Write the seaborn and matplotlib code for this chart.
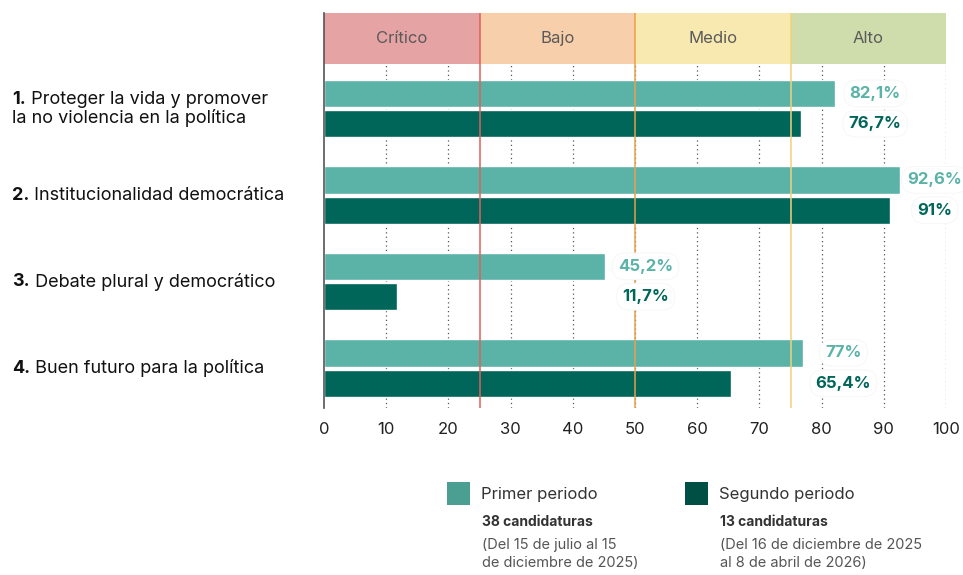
import pandas as pd
import numpy as np
import matplotlib.pyplot as plt
import matplotlib.transforms as mtransforms
from matplotlib.patches import Rectangle
import seaborn as sns

# ----- data -----
numeros = ["1.", "2.", "3.", "4."]
indicadores = [
    "Proteger la vida y promover\nla no violencia en la política",
    "Institucionalidad democrática",
    "Debate plural y democrático",
    "Buen futuro para la política",
]
periodos = ["Primer periodo", "Segundo periodo"]
primer = [82.1, 92.6, 45.2, 77.0]
segundo = [76.7, 91.0, 11.7, 65.4]
etiq_primer = ["82,1%", "92,6%", "45,2%", "77%"]
etiq_segundo = ["76,7%", "91%", "11,7%", "65,4%"]

niveles = ["Crítico", "Bajo", "Medio", "Alto"]
limites = [0, 25, 50, 75, 100]
x_ticks = [0, 10, 20, 30, 40, 50, 60, 70, 80, 90, 100]

candidaturas = ["38 candidaturas", "13 candidaturas"]
fechas = ["(Del 15 de julio al 15\nde diciembre de 2025)",
          "(Del 16 de diciembre de 2025\nal 8 de abril de 2026)"]

# ----- colours -----
c_light = "#5bb3a8"
c_dark = "#00665a"
band_colors = ["#e5a3a3", "#f7cfaa", "#f8e9b0", "#cfdcab"]
line_colors = ["#e0605a", "#e8a04a", "#f0d27a"]

df = pd.DataFrame({
    "indicador": indicadores * 2,
    "periodo": [periodos[0]] * 4 + [periodos[1]] * 4,
    "valor": primer + segundo,
})

sns.set_theme(style="white")
plt.rcParams["font.family"] = ["Inter", "DejaVu Sans"]

fig = plt.figure(figsize=(9.63, 5.75), dpi=100)
ax = fig.add_axes([324 / 963, (575 - 408) / 575, 622 / 963, 395 / 575])

band_frac = (408 - 64) / 395

# dotted grid below the band
for x in x_ticks[1:]:
    ax.axvline(x, ymin=0, ymax=band_frac, color="#555555", lw=0.9,
               ls=(0, (1, 2.5)), zorder=0)

sns.barplot(data=df, y="indicador", x="valor", hue="periodo", orient="h",
            palette=[c_light, c_dark], width=0.7, gap=0.1, legend=False,
            saturation=1, ax=ax, zorder=2)

# level band on top
for i, nivel in enumerate(niveles):
    ax.axvspan(limites[i], limites[i + 1], ymin=band_frac, ymax=1,
               color=band_colors[i], lw=0, zorder=1)
    ax.text((limites[i] + limites[i + 1]) / 2, 1 - (1 - band_frac) / 2, nivel,
            transform=ax.get_xaxis_transform(), ha="center", va="center",
            fontsize=12, color="#5a5a5a")

# threshold lines
for lim, col in zip(limites[1:4], line_colors):
    ax.axvline(lim, color=col, lw=1.1, zorder=3)

ax.set_xlim(0, 100)
ax.set_ylim(3.462, -1.104)
ax.set_xticks(x_ticks)
ax.set_xticklabels([str(t) for t in x_ticks], fontsize=12, color="#222222")
ax.tick_params(axis="x", length=0, pad=10)
ax.set_yticks([])
ax.set_xlabel("")
ax.set_ylabel("")
for s in ["top", "right", "bottom"]:
    ax.spines[s].set_visible(False)
ax.spines["left"].set_color("#555555")
ax.spines["left"].set_linewidth(1.2)

# value labels
box = dict(boxstyle="round,pad=0.35,rounding_size=0.8", fc="white", ec="#f6f6f6", lw=0.6)
for i in range(len(indicadores)):
    xpos = min(max(primer[i], segundo[i]) + 6.5, 98.2)
    ax.text(xpos, i - 0.175, etiq_primer[i], ha="center", va="center",
            fontsize=12, fontweight="bold", color=c_light, bbox=box, zorder=4)
    ax.text(xpos, i + 0.175, etiq_segundo[i], ha="center", va="center",
            fontsize=12, fontweight="bold", color=c_dark, bbox=box, zorder=4)

# category labels
trans = mtransforms.blended_transform_factory(fig.transFigure, ax.transData)
for i, (num, ind) in enumerate(zip(numeros, indicadores)):
    lines = ind.split("\n")
    y0 = i - 0.1 * (len(lines) - 1)
    t = ax.text(12 / 963, y0, num, transform=trans, ha="left", va="center",
                fontsize=13, fontweight="bold", color="#111111")
    ax.annotate(" " + lines[0], xy=(1, 0.5), xycoords=t, ha="left", va="center",
                fontsize=13, color="#111111")
    for k, extra in enumerate(lines[1:]):
        ax.text(12 / 963, y0 + 0.21 * (k + 1), extra, transform=trans,
                ha="left", va="center", fontsize=13, color="#111111")

# legend
leg_x = [447, 685]
leg_colors = ["#4a9e92", "#004f44"]
for j in range(2):
    fig.add_artist(Rectangle((leg_x[j] / 963, (575 - 505) / 575), 23 / 963, 23 / 575,
                             transform=fig.transFigure, color=leg_colors[j], lw=0))
    fig.text((leg_x[j] + 34) / 963, (575 - 494) / 575, periodos[j],
             ha="left", va="center", fontsize=12, color="#333333")
    fig.text((leg_x[j] + 35) / 963, (575 - 522) / 575, candidaturas[j],
             ha="left", va="center", fontsize=10, fontweight="bold", color="#333333")
    fig.text((leg_x[j] + 35) / 963, (575 - 538) / 575, fechas[j],
             ha="left", va="top", fontsize=10.5, color="#555555", linespacing=1.4)

plt.savefig("out.png", dpi=100)
